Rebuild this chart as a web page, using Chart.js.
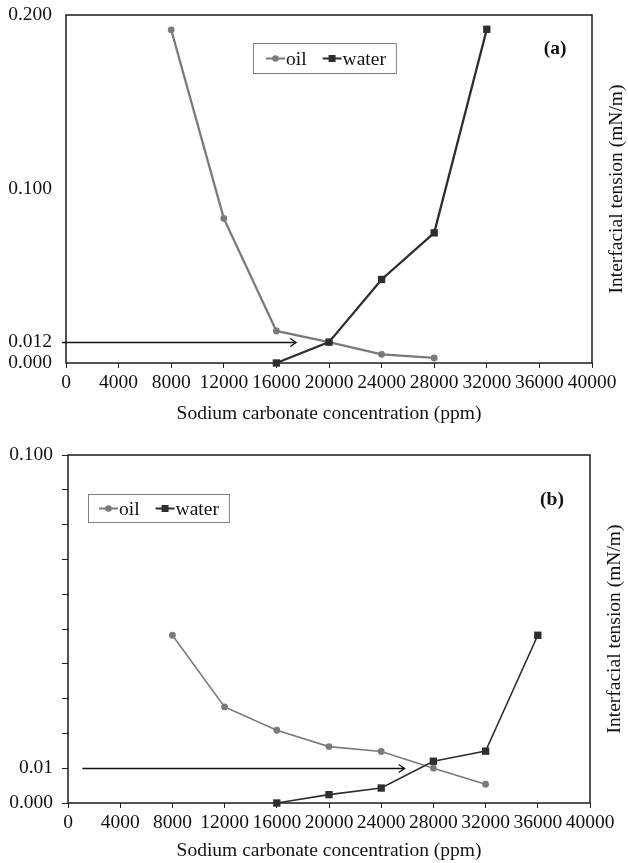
<!DOCTYPE html>
<html>
<head>
<meta charset="utf-8">
<script src="https://cdn.jsdelivr.net/npm/chart.js@4.4.1/dist/chart.umd.min.js"></script>
<style>
  html, body { margin: 0; padding: 0; background: #fff; }
  canvas { display: block; }
</style>
</head>
<body>
<canvas id="chartA" width="628" height="430"></canvas>
<canvas id="chartB" width="628" height="433"></canvas>
<script>
// panel (a)
const oilXA = [8000, 12000, 16000, 20000, 24000, 28000];
const oilYA = [0.1915, 0.0831, 0.0184, 0.012, 0.0050, 0.0029];
const waterXA = [16000, 20000, 24000, 28000, 32000];
const waterYA = [0, 0.012, 0.0480, 0.0748, 0.1918];
const yTicksA = [0, 0.012, 0.1, 0.2];
const yLabelsA = ['0.000', '0.012', '0.100', '0.200'];
const arrowXA = [-300, 17500];
const arrowYA = 0.012;

// panel (b)
const oilXB = [8000, 12000, 16000, 20000, 24000, 28000, 32000];
const oilYB = [0.0482, 0.0276, 0.0209, 0.0162, 0.0148, 0.0100, 0.0054];
const waterXB = [16000, 20000, 24000, 28000, 32000, 36000];
const waterYB = [0, 0.0024, 0.0043, 0.0120, 0.0149, 0.0482];
const yTicksB = [0, 0.01, 0.02, 0.03, 0.04, 0.05, 0.06, 0.07, 0.08, 0.09, 0.1];
const yLabelsB = ['0.000', '0.01', '', '', '', '', '', '', '', '', '0.100'];
const arrowXB = [1100, 25800];
const arrowYB = 0.01;

const xTicks = [0, 4000, 8000, 12000, 16000, 20000, 24000, 28000, 32000, 36000, 40000];
const xTitle = 'Sodium carbonate concentration (ppm)';
const yTitle = 'Interfacial tension (mN/m)';

const FONT = '"Liberation Serif", "Times New Roman", serif';
const FS = 19.5;
const INK = '#111';
const OIL = '#7a7a7a';
const WATER = '#2e2e2e';

const pairs = (xs, ys) => xs.map((x, i) => ({ x: x, y: ys[i] }));

// frame, arrow, legend box, panel tag and right-hand title
const extras = {
  id: 'extras',
  beforeDatasetsDraw(chart) {
    const { ctx, chartArea: a } = chart;
    ctx.save();
    ctx.strokeStyle = '#1a1a1a';
    ctx.lineWidth = 1.5;
    ctx.strokeRect(a.left, a.top, a.right - a.left, a.bottom - a.top);
    ctx.restore();
  },
  afterDraw(chart, args, o) {
    const { ctx, chartArea: a, scales } = chart;
    ctx.save();

    // arrow
    const x0 = scales.x.getPixelForValue(o.arrowX[0]);
    const x1 = scales.x.getPixelForValue(o.arrowX[1]);
    const y = Math.round(scales.y.getPixelForValue(o.arrowY)) + 0.5;
    ctx.strokeStyle = INK;
    ctx.lineWidth = 1.3;
    ctx.beginPath();
    ctx.moveTo(x0, y); ctx.lineTo(x1, y);
    ctx.moveTo(x1 - 6, y - 4); ctx.lineTo(x1, y); ctx.lineTo(x1 - 6, y + 4);
    ctx.stroke();

    // legend
    ctx.font = FS + 'px ' + FONT;
    ctx.textBaseline = 'middle';
    const lx = a.left + o.legend[0], ly = a.top + o.legend[1];
    let w = o.legendPad;
    chart.data.datasets.forEach(ds => { w += 20 + ctx.measureText(ds.label).width + 16; });
    w = w - 16 + 10;
    ctx.fillStyle = '#fff';
    ctx.fillRect(lx, ly, w, o.legendH);
    ctx.strokeStyle = '#808080';
    ctx.lineWidth = 1;
    ctx.strokeRect(lx + 0.5, ly + 0.5, w, o.legendH);
    let cx = lx + o.legendPad;
    const cy = ly + o.legendH / 2 + 0.5;
    chart.data.datasets.forEach(ds => {
      ctx.strokeStyle = ds.borderColor;
      ctx.lineWidth = 2;
      ctx.beginPath(); ctx.moveTo(cx, cy); ctx.lineTo(cx + 19, cy); ctx.stroke();
      ctx.fillStyle = ds.pointBackgroundColor;
      if (ds.pointStyle === 'rect') {
        ctx.fillRect(cx + 9.5 - 3.5, cy - 3.5, 7, 7);
      } else {
        ctx.beginPath(); ctx.arc(cx + 9.5, cy, 3.3, 0, Math.PI * 2); ctx.fill();
      }
      ctx.fillStyle = INK;
      ctx.textAlign = 'left';
      ctx.fillText(ds.label, cx + 20, cy + 1);
      cx += 20 + ctx.measureText(ds.label).width + 16;
    });

    // panel tag
    ctx.font = 'bold ' + FS + 'px ' + FONT;
    ctx.textAlign = 'center';
    ctx.fillStyle = INK;
    ctx.fillText(o.tag, a.right + o.tagPos[0], a.top + o.tagPos[1]);

    // right title, reading bottom to top
    ctx.font = FS + 'px ' + FONT;
    ctx.translate(a.right + 25, (a.top + a.bottom) / 2);
    ctx.rotate(-Math.PI / 2);
    ctx.fillText(yTitle, 0, 0);
    ctx.restore();
  }
};

function makeChart(id, d) {
  return new Chart(document.getElementById(id), {
    type: 'scatter',
    data: {
      datasets: [
        {
          label: 'oil',
          data: pairs(d.oilX, d.oilY),
          showLine: true,
          borderColor: OIL,
          borderWidth: d.lineW,
          pointStyle: 'circle',
          pointRadius: 3.4,
          pointBackgroundColor: OIL,
          pointBorderColor: OIL,
          pointBorderWidth: 0,
          clip: false,
          order: 1
        },
        {
          label: 'water',
          data: pairs(d.waterX, d.waterY),
          showLine: true,
          borderColor: WATER,
          borderWidth: d.lineW,
          pointStyle: 'rect',
          pointRadius: 5.2,
          pointBackgroundColor: WATER,
          pointBorderColor: WATER,
          pointBorderWidth: 0,
          clip: false,
          order: 0
        }
      ]
    },
    options: {
      responsive: false,
      animation: false,
      events: [],
      layout: { padding: { top: d.top, left: 0, right: d.right, bottom: 0 } },
      scales: {
        x: {
          type: 'linear',
          min: 0,
          max: 40000,
          afterBuildTicks: s => { s.ticks = xTicks.map(v => ({ value: v })); },
          afterFit: s => { s.height = d.xH; },
          border: { display: false },
          grid: { drawOnChartArea: false, drawTicks: true, tickLength: 5, color: '#222' },
          ticks: {
            autoSkip: false,
            maxRotation: 0,
            padding: 3,
            color: INK,
            font: { family: FONT, size: FS },
            callback: v => String(v)
          },
          title: {
            display: true,
            text: xTitle,
            color: INK,
            font: { family: FONT, size: FS },
            padding: { top: 0, bottom: d.titlePad }
          }
        },
        y: {
          type: 'linear',
          min: 0,
          max: d.yMax,
          afterBuildTicks: s => { s.ticks = d.yTicks.map(v => ({ value: v })); },
          afterFit: s => { s.width = d.yW; },
          border: { display: false },
          grid: d.yGrid,
          ticks: {
            autoSkip: false,
            padding: d.yPad,
            color: INK,
            font: { family: FONT, size: FS },
            callback: (v, i) => d.yLabels[i]
          }
        }
      },
      plugins: {
        legend: { display: false },
        tooltip: { enabled: false },
        extras: {
          arrowX: d.arrowX,
          arrowY: d.arrowY,
          legend: d.legend,
          legendPad: d.legendPad,
          legendH: d.legendH,
          tag: d.tag,
          tagPos: d.tagPos
        }
      }
    },
    plugins: [extras]
  });
}

makeChart('chartA', {
  oilX: oilXA, oilY: oilYA, waterX: waterXA, waterY: waterYA,
  yTicks: yTicksA, yLabels: yLabelsA, yMax: 0.2,
  arrowX: arrowXA, arrowY: arrowYA,
  lineW: 2.3, top: 15, right: 36, xH: 67, yW: 66, yPad: 0, titlePad: 4,
  yGrid: { display: false, drawTicks: true, tickLength: 14 },
  legend: [187, 28], legendPad: 13, legendH: 30,
  tag: '(a)', tagPos: [-37, 34]
});

makeChart('chartB', {
  oilX: oilXB, oilY: oilYB, waterX: waterXB, waterY: waterYB,
  yTicks: yTicksB, yLabels: yLabelsB, yMax: 0.1,
  arrowX: arrowXB, arrowY: arrowYB,
  lineW: 1.6, top: 25, right: 38, xH: 60, yW: 68, yPad: 9, titlePad: 0,
  yGrid: { drawOnChartArea: false, drawTicks: true, tickLength: 6, color: '#222' },
  legend: [20, 39], legendPad: 11, legendH: 28,
  tag: '(b)', tagPos: [-38, 45]
});
</script>
</body>
</html>
